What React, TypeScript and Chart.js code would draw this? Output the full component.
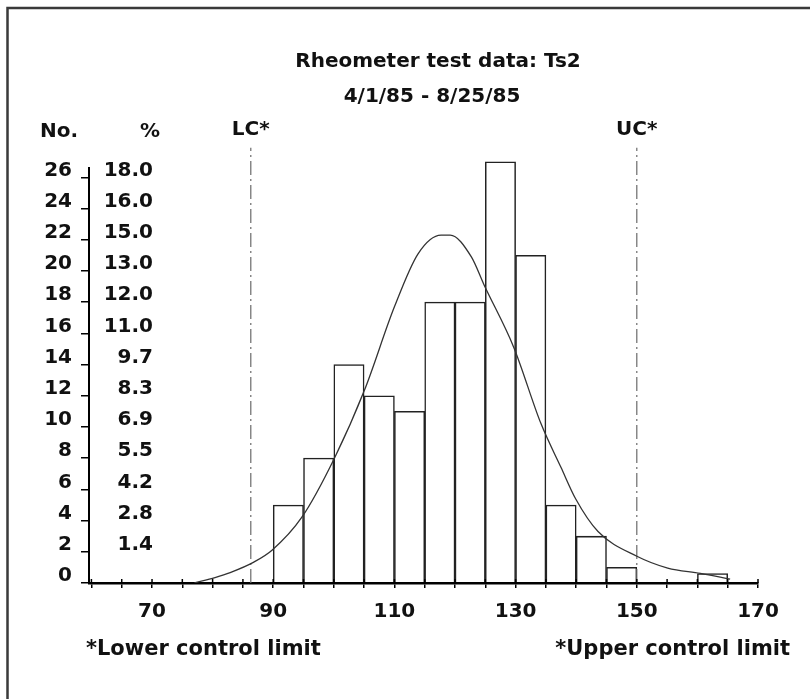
import React, { useEffect, useRef } from "react";
import { Chart, registerables } from "chart.js";

Chart.register(...registerables);

// ---- data ----
const binStarts = [90, 95, 100, 105, 110, 115, 120, 125, 130, 135, 140, 145, 160];
const binCounts = [5, 8, 14, 12, 11, 18, 18, 27, 21, 5, 3, 1, 0.6];
const binWidth = 5;

const curveX = [77, 80.4, 82.9, 86.8, 89.8, 94.7, 100.1, 105.1, 110, 113.9, 117.7, 119.2, 122.7, 124.8, 129.7, 134.2, 137.5, 139.9, 143.6, 150.1, 155.1, 160.5, 165.4];
const curveY = [0, 0.35, 0.67, 1.34, 2.1, 4.2, 8.0, 12.4, 17.7, 21.1, 22.3, 22.3, 20.9, 19.1, 15.1, 10.2, 7.4, 5.4, 3.3, 1.7, 0.96, 0.62, 0.25];

const countTicks = [0, 2, 4, 6, 8, 10, 12, 14, 16, 18, 20, 22, 24, 26];
const pctLabels = ["", "1.4", "2.8", "4.2", "5.5", "6.9", "8.3", "9.7", "11.0", "12.0", "13.0", "15.0", "16.0", "18.0"];
const xLabelValues = [70, 90, 110, 130, 150, 170];

const lowerLimit = 86.3;
const upperLimit = 150.0;
const limitTop = 27.9;

const titleLines = ["Rheometer test data: Ts2", "4/1/85 - 8/25/85"];
const noteLower = "*Lower control limit";
const noteUpper = "*Upper control limit";

const FONT = '"DejaVu Sans", "Open Sans", sans-serif';
const FS = 20;

const decorPlugin = {
  id: "decor",
  afterDraw(chart: any) {
    const { ctx, scales } = chart;
    const x = scales.x;
    const y = scales.y;
    ctx.save();
    // frame (left + top)
    ctx.strokeStyle = "#3a3a3a";
    ctx.lineWidth = 2.5;
    ctx.beginPath();
    ctx.moveTo(7.5, 699);
    ctx.lineTo(7.5, 8);
    ctx.lineTo(810, 8);
    ctx.stroke();

    // inner half of the crossing x ticks
    ctx.strokeStyle = "#000";
    ctx.lineWidth = 1.5;
    x.ticks.forEach((t: any) => {
      const px = x.getPixelForValue(t.value);
      ctx.beginPath();
      ctx.moveTo(px, y.bottom);
      ctx.lineTo(px, y.bottom - 4);
      ctx.stroke();
    });

    ctx.fillStyle = "#111";
    ctx.font = `bold ${FS}px ${FONT}`;
    ctx.textBaseline = "middle";

    // title
    ctx.textAlign = "center";
    ctx.fillText(titleLines[0], 438, 62);
    ctx.fillText(titleLines[1], 432, 97);

    // headers
    ctx.fillText("No.", 59, 132);
    ctx.fillText("%", 150, 132);
    ctx.fillText("LC*", x.getPixelForValue(lowerLimit), 130);
    ctx.fillText("UC*", x.getPixelForValue(upperLimit), 130);

    // percentage column
    ctx.textAlign = "right";
    countTicks.forEach((c, i) => {
      if (!pctLabels[i]) return;
      ctx.fillText(pctLabels[i], 153, y.getPixelForValue(c) - 7);
    });

    // notes
    ctx.font = `bold 21px ${FONT}`;
    ctx.textAlign = "left";
    ctx.fillText(noteLower, 86, 650);
    ctx.textAlign = "right";
    ctx.fillText(noteUpper, 790, 650);
    ctx.restore();
  },
};

export default function App() {
  const ref = useRef<HTMLCanvasElement | null>(null);

  useEffect(() => {
    if (!ref.current) return;
    const barData = binStarts.map((s, i) => ({ x: s + binWidth / 2, y: binCounts[i] }));
    const curveData = curveX.map((v, i) => ({ x: v, y: curveY[i] }));
    const limitStyle = {
      type: "line" as const,
      borderColor: "#6a6a6a",
      borderWidth: 1.2,
      borderDash: [14, 4, 2, 4],
      pointRadius: 0,
      clip: false as any,
      tension: 0,
    };
    const chart = new Chart(ref.current, {
      type: "bar",
      data: {
        datasets: [
          {
            type: "line",
            label: "curve",
            data: curveData,
            borderColor: "#333",
            borderWidth: 1.3,
            pointRadius: 0,
            cubicInterpolationMode: "monotone",
            fill: false,
          } as any,
          {
            ...limitStyle,
            label: "LC",
            data: [{ x: lowerLimit, y: 0 }, { x: lowerLimit, y: limitTop }],
          } as any,
          {
            ...limitStyle,
            label: "UC",
            data: [{ x: upperLimit, y: 0 }, { x: upperLimit, y: limitTop }],
          } as any,
          {
            type: "bar",
            label: "count",
            data: barData,
            backgroundColor: "rgba(0,0,0,0)",
            borderColor: "#222",
            borderWidth: 0.85,
            barPercentage: 1,
            categoryPercentage: 1,
            grouped: false,
            clip: false,
          } as any,
        ],
      },
      options: {
        responsive: false,
        animation: false,
        layout: { padding: { left: 0, right: 52, top: 168, bottom: 0 } },
        plugins: { legend: { display: false }, title: { display: false }, tooltip: { enabled: false } },
        scales: {
          x: {
            type: "linear",
            offset: false,
            min: 59.6,
            max: 170,
            afterFit: (s: any) => {
              s.height = 116;
            },
            border: { display: true, color: "#000", width: 2.5 },
            grid: { display: true, drawOnChartArea: false, drawTicks: true, tickLength: 5, color: "#000", lineWidth: 1.5, offset: false },
            ticks: {
              stepSize: 5,
              autoSkip: false,
              includeBounds: false,
              maxRotation: 0,
              padding: 12,
              color: "#111",
              font: { family: FONT, size: FS, weight: "bold" },
              callback: (v: any) => (xLabelValues.includes(Number(v)) ? String(v) : ""),
            },
          },
          y: {
            type: "linear",
            min: 0,
            max: 26.6,
            afterFit: (s: any) => {
              s.width = 89;
            },
            border: { display: true, color: "#000", width: 2 },
            grid: { display: true, drawOnChartArea: false, drawTicks: true, tickLength: 8, color: "#000", lineWidth: 1.5 },
            ticks: {
              stepSize: 2,
              includeBounds: false,
              autoSkip: false,
              padding: 9,
              labelOffset: -7,
              color: "#111",
              font: { family: FONT, size: FS, weight: "bold" },
              callback: (v: any) => (countTicks.includes(Number(v)) ? String(v) : ""),
            },
          },
        },
      },
      plugins: [decorPlugin],
    });
    return () => chart.destroy();
  }, []);

  return (
    <div style={{ position: "fixed", left: 0, top: 0, width: 810, height: 699, background: "#fff" }}>
      <canvas ref={ref} width={810} height={699} style={{ display: "block", width: 810, height: 699 }} />
    </div>
  );
}
